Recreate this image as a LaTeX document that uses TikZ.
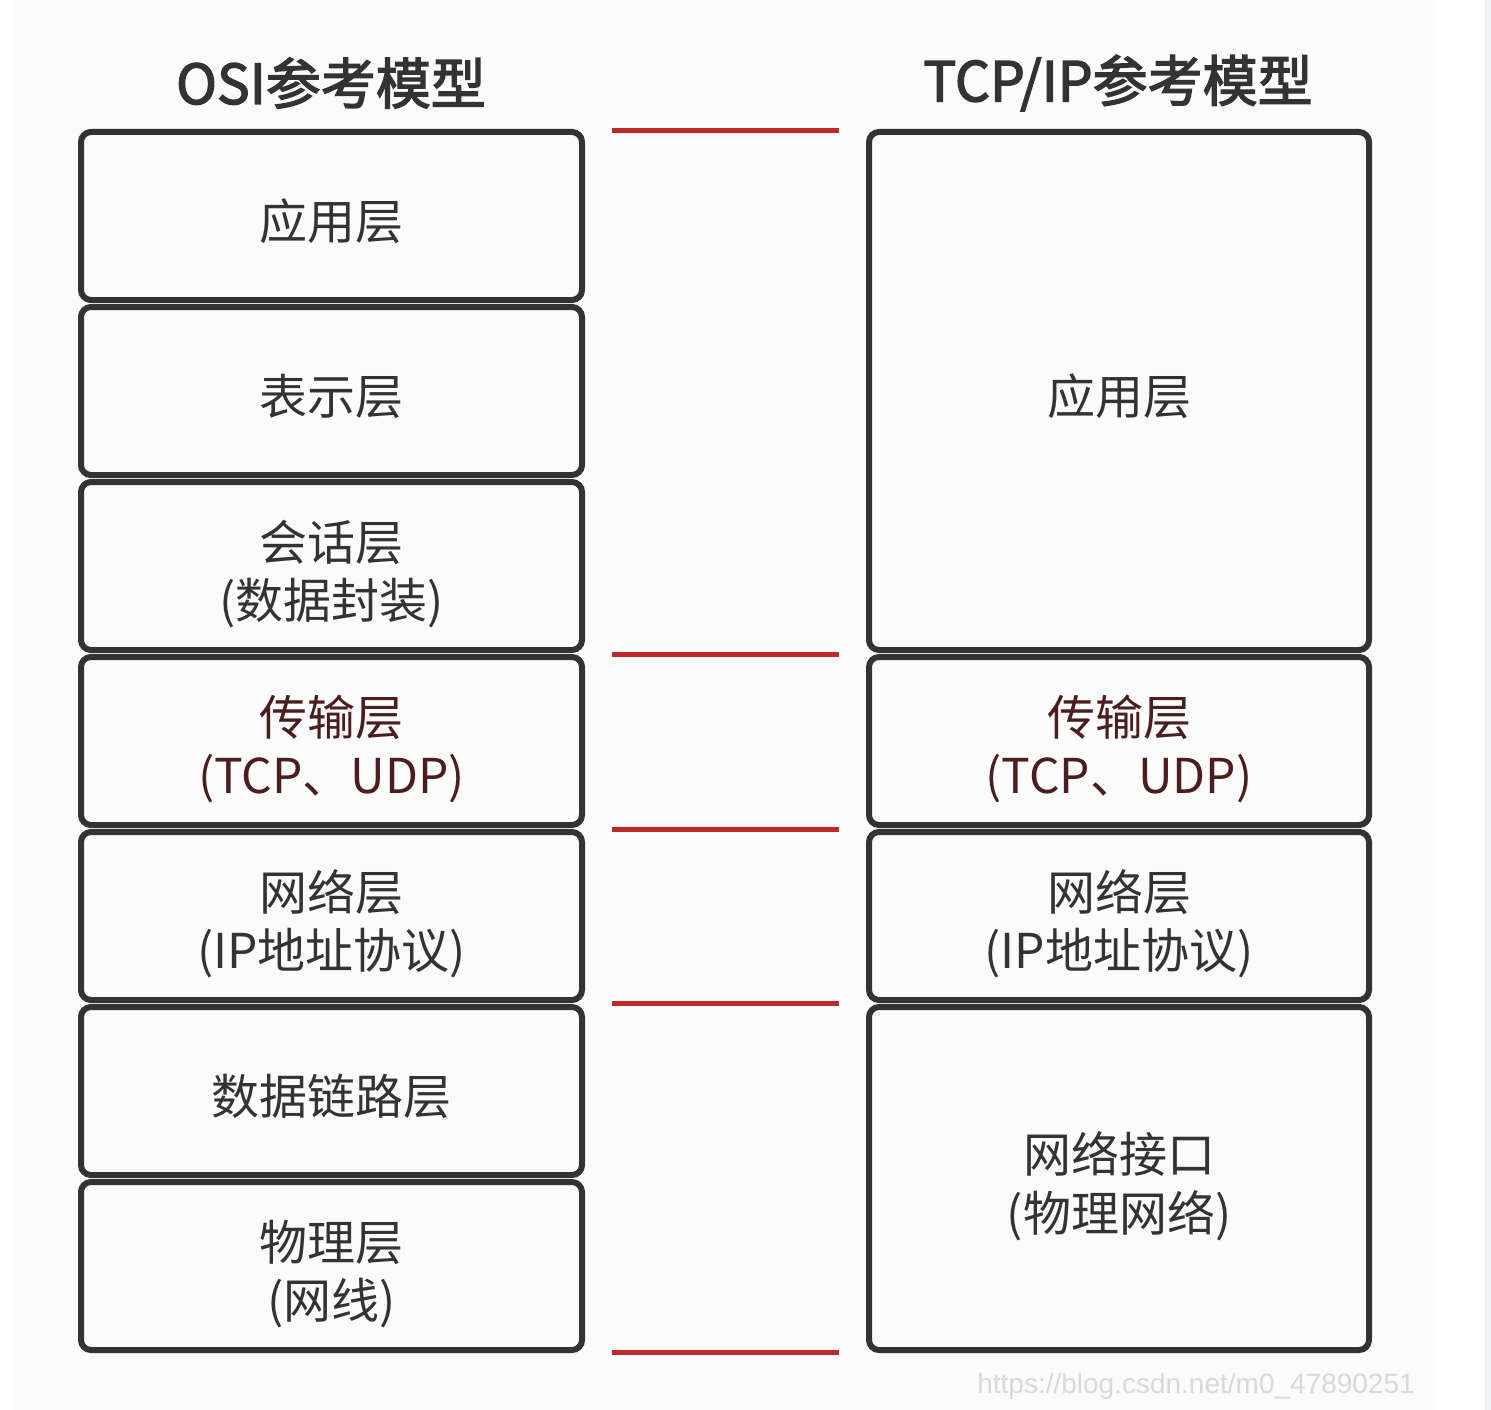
\documentclass[tikz,border=0pt]{standalone}
\usepackage{fontspec}
\setmainfont{Noto Sans CJK SC}
\newfontfamily\titlefont[FakeBold=2.5]{Noto Sans CJK SC}
\newfontfamily\markfont{Liberation Sans}
\usepackage{tikz}
\usetikzlibrary{positioning}
\definecolor{boxline}{HTML}{333333}
\definecolor{redline}{HTML}{C0282A}
\definecolor{darkred}{HTML}{4A1E1E}
\definecolor{paper}{HTML}{FBFBFB}
\definecolor{sidebar}{HTML}{F0F1F4}
% text of a layer, set a little below the middle of its box
\newcommand\layertext[1]{\raisebox{-18pt}[0pt][0pt]{\begin{tabular}{@{}c@{}}#1\end{tabular}}}

\begin{document}
\begin{tikzpicture}[x=1pt,y=-1pt,
    layer/.style={draw=boxline,line width=6pt,rounded corners=10pt,fill=paper,
        text=boxline,font=\fontsize{48}{58}\selectfont,inner sep=0pt},
    osibox/.style={layer,minimum width=501pt,minimum height=168pt},
    tcpbox/.style={layer,minimum width=500pt},
    title/.style={text=boxline,font=\titlefont\fontsize{55}{60}\selectfont,inner sep=0pt},
    sep/.style={draw=redline,line width=5pt}]
            % background
            \fill[white] (0,0) rectangle (1491,1410);
            \fill[paper] (13,0) rectangle (1436,1410);
            \fill[sidebar] (1485,0) rectangle (1491,1410);
            \useasboundingbox (0,0) rectangle (1491,1410);
            % titles
            \node[title] (osititle) at (331,83) {OSI参考模型};
            \node[title] (tcptitle) at (1118,83) {TCP/IP参考模型};
            % OSI model
            \node[osibox,anchor=north] (osiapp) at (331.5,129) {\layertext{应用层}};
            \node[osibox,below=1pt of osiapp] (osipres) {\layertext{表示层}};
            \node[osibox,below=1pt of osipres] (osisess) {\layertext{会话层\\(数据封装)}};
            \node[osibox,below=1pt of osisess,text=darkred] (ositrans) {\layertext{传输层\\(TCP、UDP)}};
            \node[osibox,below=1pt of ositrans] (osinet) {\layertext{网络层\\(IP地址协议)}};
            \node[osibox,below=1pt of osinet] (osilink) {\layertext{数据链路层}};
            \node[osibox,below=1pt of osilink] (osiphys) {\layertext{物理层\\(网线)}};
            % TCP/IP model
            \node[tcpbox,minimum height=518pt,anchor=north] (tcpapp) at (1119,129) {\layertext{应用层}};
            \node[tcpbox,minimum height=168pt,below=1pt of tcpapp,text=darkred] (tcptrans) {\layertext{传输层\\(TCP、UDP)}};
            \node[tcpbox,minimum height=168pt,below=1pt of tcptrans] (tcpnet) {\layertext{网络层\\(IP地址协议)}};
            \node[tcpbox,minimum height=343pt,below=1pt of tcpnet] (tcplink) {\layertext{网络接口\\(物理网络)}};
            % red separators
            \coordinate (s0a) at (612,131);    \coordinate (s0b) at (839,131);
            \coordinate (s1a) at (612,654.5);  \coordinate (s1b) at (839,654.5);
            \coordinate (s2a) at (612,829);    \coordinate (s2b) at (839,829);
            \coordinate (s3a) at (612,1003.5); \coordinate (s3b) at (839,1003.5);
            \coordinate (s4a) at (612,1352);   \coordinate (s4b) at (839,1352);
            \draw[sep] (s0a) -- (s0b) (s1a) -- (s1b) (s2a) -- (s2b);
            \draw[sep] (s3a) -- (s3b) (s4a) -- (s4b);
            % watermark
            \node[text=black!15,font=\markfont\fontsize{28}{30}\selectfont,inner sep=0pt] (mark) at (1196,1386) {https://blog.csdn.net/m0\_47890251};
\end{tikzpicture}
\end{document}
